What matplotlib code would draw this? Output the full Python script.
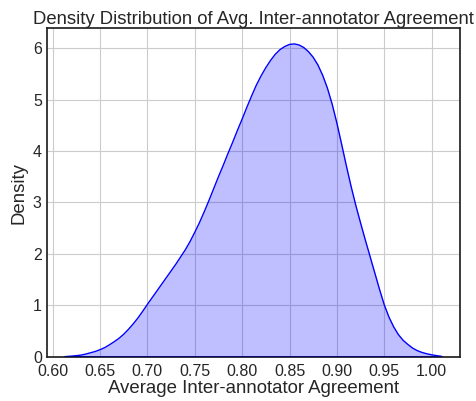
import matplotlib
matplotlib.use("Agg")
import matplotlib.pyplot as plt
import seaborn as sns

# density curve (x = agreement, y = density)
agreement = [0.613, 0.62, 0.625, 0.63, 0.635, 0.64, 0.645, 0.65, 0.655, 0.66,
             0.665, 0.67, 0.675, 0.68, 0.685, 0.69, 0.695, 0.70, 0.705, 0.71,
             0.715, 0.72, 0.725, 0.73, 0.735, 0.74, 0.745, 0.75, 0.755, 0.76,
             0.765, 0.77, 0.775, 0.78, 0.785, 0.79, 0.795, 0.80, 0.805, 0.81,
             0.815, 0.82, 0.825, 0.83, 0.835, 0.84, 0.845, 0.85, 0.855, 0.86,
             0.865, 0.87, 0.875, 0.88, 0.885, 0.89, 0.895, 0.90, 0.905, 0.91,
             0.915, 0.92, 0.925, 0.93, 0.935, 0.94, 0.945, 0.95, 0.955, 0.96,
             0.965, 0.97, 0.975, 0.98, 0.985, 0.99, 0.995, 1.00, 1.005, 1.0105]
density = [0.005, 0.015, 0.024, 0.035, 0.055, 0.08, 0.105, 0.14, 0.18, 0.235,
           0.295, 0.36, 0.44, 0.535, 0.64, 0.755, 0.885, 1.02, 1.15, 1.28,
           1.41, 1.54, 1.67, 1.80, 1.94, 2.08, 2.24, 2.42, 2.61, 2.82,
           3.04, 3.27, 3.50, 3.72, 3.95, 4.17, 4.40, 4.62, 4.85, 5.07,
           5.28, 5.46, 5.62, 5.76, 5.88, 5.97, 6.03, 6.07, 6.08, 6.06,
           6.01, 5.93, 5.82, 5.67, 5.47, 5.22, 4.91, 4.54, 4.13, 3.71,
           3.31, 2.94, 2.60, 2.27, 1.95, 1.63, 1.31, 1.01, 0.77, 0.58,
           0.43, 0.32, 0.24, 0.17, 0.12, 0.085, 0.06, 0.04, 0.025, 0.01]

x_ticks = [0.60, 0.65, 0.70, 0.75, 0.80, 0.85, 0.90, 0.95, 1.00]

sns.set_style("whitegrid")
plt.rcParams['font.family'] = ['Liberation Sans', 'DejaVu Sans']

fig = plt.figure(figsize=(4.76, 4.01), dpi=100)
ax = fig.add_axes([0.098, 0.110, 0.869, 0.819])

ax.fill_between(agreement, density, facecolor=(0, 0, 1, 0.25), edgecolor='blue', linewidth=0)
ax.plot(agreement, density, color='blue', linewidth=1)
ax.plot([agreement[0], agreement[-1]], [0, 0], color='navy', linewidth=1.2, zorder=3)

ax.set_xlim(0.5937, 1.0302)
ax.set_ylim(0, 6.38)
ax.set_xticks(x_ticks)
ax.set_xticklabels([f"{t:.2f}" for t in x_ticks])

for s in ax.spines.values():
    s.set_color('#222222')
    s.set_linewidth(1.25)
ax.tick_params(labelsize=11.5, colors='#262626', length=0)
ax.tick_params(axis='x', pad=5)

ax.set_title('Density Distribution of Avg. Inter-annotator Agreement', fontsize=13.3, color='#262626', pad=3)
ax.set_xlabel('Average Inter-annotator Agreement', fontsize=13.4, color='#262626', labelpad=1)
ax.set_ylabel('Density', fontsize=13.4, color='#262626')

fig.savefig('out.png', dpi=100)
